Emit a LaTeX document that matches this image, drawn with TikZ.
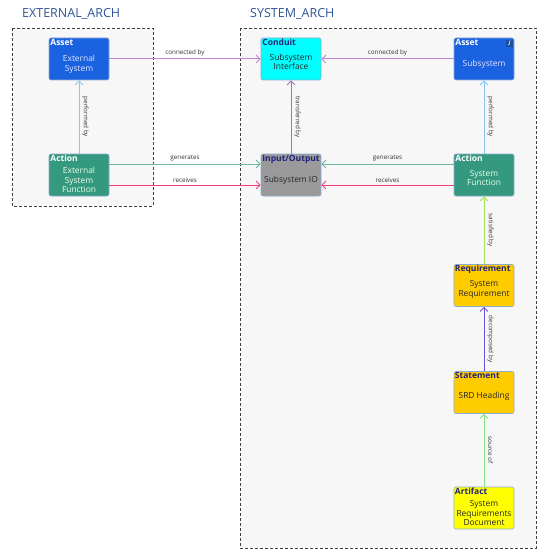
\documentclass[tikz,border=0pt]{standalone}
\usepackage{fontspec}
\setmainfont{Open Sans}
\usetikzlibrary{arrows.meta}
\definecolor{assetc}{HTML}{1A62E0}
\definecolor{actionc}{HTML}{34997F}
\definecolor{conduitc}{HTML}{00FFFF}
\definecolor{ioc}{HTML}{9A9A9A}
\definecolor{reqc}{HTML}{FFCC00}
\definecolor{artc}{HTML}{FFFF00}
\definecolor{boxborder}{HTML}{8FAAD0}
\definecolor{navy}{HTML}{22237A}
\definecolor{archtitle}{HTML}{2F5496}
\definecolor{cconn}{HTML}{C585D5}
\definecolor{cperf}{HTML}{85C5F0}
\definecolor{cgen}{HTML}{70B4A4}
\definecolor{crecv}{HTML}{F0407A}
\definecolor{ctrans}{HTML}{9575B5}
\definecolor{csat}{HTML}{A5E060}
\definecolor{cdec}{HTML}{7050E0}
\definecolor{csrc}{HTML}{85E585}
\definecolor{iconc}{HTML}{1A4FA0}
\begin{document}
\begin{tikzpicture}[x=1pt,y=-1pt,
  archbox/.style={draw=black!75, dash pattern=on 3pt off 2pt, line width=0.7pt, fill=black!3},
  archlabel/.style={anchor=west, font=\fontsize{12.5}{14}\selectfont, text=archtitle, inner sep=0pt},
  elem/.style={draw=boxborder, line width=0.6pt, rounded corners=2pt, minimum width=60pt, minimum height=42pt, inner sep=0pt},
  etitle/.style={anchor=north west, font=\bfseries\fontsize{8.5}{10}\selectfont, inner sep=1.5pt},
  ebody/.style={align=center, font=\fontsize{8.4}{9.7}\selectfont, inner sep=0pt},
  conn/.style={line width=1pt, -{Straight Barb[length=4pt,width=8pt,line width=0.9pt]}},
  elab/.style={font=\fontsize{6.3}{7}\selectfont, text=black!80, inner sep=1pt},
  vlab/.style={elab, rotate=-90, yshift=6.5pt}
]
\useasboundingbox (0,0) rectangle (547,559);
\fill[white] (0,0) rectangle (547,559);

% architecture frames
\draw[archbox] (12,28) rectangle (153,206);
\draw[archbox] (240,28) rectangle (536,548);
\node[archlabel] (extlbl) at (22,14) {EXTERNAL\_ARCH};
\node[archlabel] (syslbl) at (250,14) {SYSTEM\_ARCH};

% elements
\node[elem, fill=assetc] (extasset) at (79,59) {};
\node[etitle, text=white] at (extasset.north west) {Asset};
\node[ebody, text=white!90!blue] at ([yshift=-5pt]extasset.center) {External\\System};

\node[elem, fill=actionc] (extaction) at (79,175) {};
\node[etitle, text=white] at (extaction.north west) {Action};
\node[ebody, text=white!92!green] at ([yshift=-5pt]extaction.center) {External\\System\\Function};

\node[elem, fill=conduitc] (conduit) at (291,59) {};
\node[etitle, text=navy] at (conduit.north west) {Conduit};
\node[ebody, text=black!85] at ([yshift=-3pt]conduit.center) {Subsystem\\Interface};

\node[elem, fill=assetc] (sysasset) at (484,59) {};
\node[etitle, text=white] at (sysasset.north west) {Asset};
\node[ebody, text=white!90!blue] at ([yshift=-5pt]sysasset.center) {Subsystem};
\node[fill=iconc, minimum size=7pt, inner sep=0pt, anchor=north east,
      font=\bfseries\itshape\fontsize{5}{5}\selectfont, text=white] (jicon)
      at ([xshift=-1pt,yshift=-2pt]sysasset.north east) {J};

\node[elem, fill=ioc] (io) at (291,175) {};
\node[etitle, text=navy] at (io.north west) {Input/Output};
\node[ebody, text=black!85] at ([yshift=-5pt]io.center) {Subsystem IO};

\node[elem, fill=actionc] (sysaction) at (484,175) {};
\node[etitle, text=white] at (sysaction.north west) {Action};
\node[ebody, text=white!92!green] at ([yshift=-3pt]sysaction.center) {System\\Function};

\node[elem, fill=reqc] (req) at (484,285.5) {};
\node[etitle, text=navy, inner sep=1pt] at (req.north west) {Requirement};
\node[ebody, text=black!85] at ([yshift=-4pt]req.center) {System\\Requirement};

\node[elem, fill=reqc] (stmt) at (484,392.5) {};
\node[etitle, text=navy, inner sep=1pt] at (stmt.north west) {Statement};
\node[ebody, text=black!85] at ([yshift=-4pt]stmt.center) {SRD Heading};

\node[elem, fill=artc] (artifact) at (484,508) {};
\node[etitle, text=navy, inner sep=1pt] at (artifact.north west) {Artifact};
\node[ebody, text=black!85] at ([yshift=-5pt]artifact.center) {System\\Requirements\\Document};

% connectors
\draw[conn, cconn] (extasset.east) -- node[elab, above=1pt] {connected by} (conduit.west);
\draw[conn, cperf] (extaction.north) -- node[vlab] {performed by} (extasset.south);
\draw[conn, cgen] ([yshift=11pt]extaction.east) -- node[elab, above=1pt] {generates} ([yshift=11pt]io.west);
\draw[conn, crecv] ([yshift=-10pt]extaction.east) -- node[elab, above=1pt] {receives} ([yshift=-10pt]io.west);
\draw[conn, ctrans] (io.north) -- node[vlab] {transferred by} (conduit.south);
\draw[conn, cconn] (sysasset.west) -- node[elab, above=1pt] {connected by} (conduit.east);
\draw[conn, cgen] ([yshift=11pt]sysaction.west) -- node[elab, above=1pt] {generates} ([yshift=11pt]io.east);
\draw[conn, crecv] ([yshift=-10pt]sysaction.west) -- node[elab, above=1pt] {receives} ([yshift=-10pt]io.east);
\draw[conn, cperf] (sysaction.north) -- node[vlab] {performed by} (sysasset.south);
\draw[conn, csat] (req.north) -- node[vlab] {satisfied by} (sysaction.south);
\draw[conn, cdec] (stmt.north) -- node[vlab] {decomposed by} (req.south);
\draw[conn, csrc] (artifact.north) -- node[vlab] {source of} (stmt.south);
\end{tikzpicture}
\end{document}
